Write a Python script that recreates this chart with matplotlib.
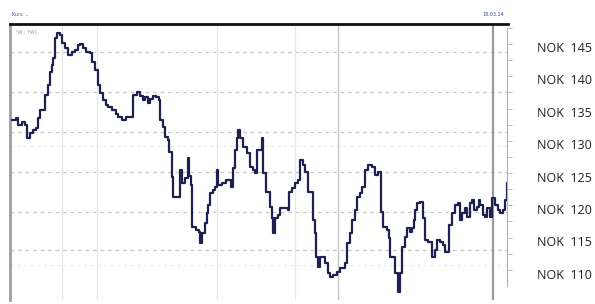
import matplotlib.pyplot as plt

# trading-day index and closing price (NOK)
days = [2, 6, 8, 12, 15, 17, 20, 23, 26, 28, 30, 35, 38, 40, 42, 43, 45, 47, 50, 52,
        55, 58, 62, 65, 68, 70, 73, 76, 80, 82, 85, 88, 90, 93, 96, 98, 102, 106, 108, 112,
        116, 123, 127, 130, 133, 135, 138, 140, 143, 146, 149, 150, 153, 155, 158, 159, 162, 163, 170, 172,
        175, 178, 179, 181, 182, 186, 189, 190, 192, 195, 197, 198, 200, 203, 205, 207, 208, 212, 216, 221,
        223, 225, 227, 228, 230, 233, 237, 240, 243, 245, 247, 252, 253, 256, 260, 262, 263, 265, 268, 270,
        278, 279, 282, 285, 288, 290, 293, 295, 298, 303, 305, 306, 308, 310, 315, 318, 320, 323, 327, 330,
        335, 337, 340, 342, 345, 347, 350, 352, 355, 358, 362, 365, 368, 371, 373, 377, 379, 380, 385, 388,
        390, 392, 395, 397, 400, 402, 404, 405, 407, 410, 413, 415, 418, 422, 425, 427, 430, 433, 435, 439,
        442, 445, 448, 450, 452, 455, 457, 460, 462, 464, 467, 469, 470, 473, 475, 477, 480, 482, 485, 488,
        490, 493, 495, 497]
prices = [133.7, 134.0, 133.0, 133.4, 133.0, 131.0, 131.7, 132.2, 132.5, 134.0, 135.3, 137.6, 139.1, 141.1, 142.2, 143.3, 146.4, 147.1, 146.8, 145.6,
          144.8, 143.7, 144.2, 144.5, 145.3, 145.5, 144.8, 144.2, 144.1, 142.7, 141.4, 139.1, 137.9, 136.8, 136.0, 135.7, 135.3, 134.7, 134.2, 133.7,
          134.2, 137.6, 138.1, 137.4, 136.8, 137.3, 136.4, 137.0, 137.4, 137.3, 136.8, 133.7, 132.7, 131.1, 130.6, 128.8, 124.9, 121.9, 126.0, 124.0,
          124.8, 127.9, 125.1, 123.7, 117.2, 116.8, 116.5, 114.8, 116.3, 117.9, 119.4, 120.6, 122.5, 122.9, 123.4, 126.0, 123.7, 124.0, 124.5, 123.4,
          126.3, 129.1, 131.0, 132.2, 131.0, 129.6, 128.6, 126.5, 126.0, 125.6, 129.1, 131.0, 125.6, 122.6, 120.3, 118.6, 116.3, 118.6, 119.1, 120.2,
          119.9, 122.6, 123.2, 124.0, 124.5, 127.6, 126.8, 125.7, 122.6, 118.3, 116.3, 112.6, 111.1, 112.6, 111.7, 110.1, 109.5, 109.8, 110.3, 110.9,
          111.7, 114.8, 116.3, 118.3, 119.9, 121.9, 122.5, 123.4, 126.0, 126.8, 126.5, 125.2, 125.7, 119.5, 117.2, 116.8, 115.5, 112.6, 110.1, 107.2,
          110.1, 114.2, 115.7, 117.1, 116.5, 117.1, 118.3, 119.9, 120.9, 121.1, 118.6, 115.2, 114.9, 112.6, 113.7, 115.2, 114.9, 114.5, 113.4, 117.5,
          119.4, 120.6, 120.9, 118.3, 119.4, 120.2, 118.8, 120.9, 121.4, 119.9, 120.3, 121.4, 120.6, 119.1, 118.8, 120.2, 118.8, 121.7, 120.6, 119.9,
          119.4, 119.9, 121.4, 124.0]

price_ticks = [145, 140, 135, 130, 125, 120, 115, 110]
tick_labels = [f"NOK  {p}" for p in price_ticks]
grid_levels = [144.2, 138.1, 131.9, 125.7, 119.5, 113.7]
faint_levels = [129.7, 111.4]
vlines_light = [52, 87, 207, 285]
vline_mid = 328
vline_dark = 483

LINE = "#1c2150"

fig = plt.figure(figsize=(5.95, 3.04), dpi=100)
ax = fig.add_axes([10 / 595, 4 / 304, 498 / 595, 276 / 304])
ax.set_xlim(0, 498)
ax.set_ylim(105.98, 148.53)

for lv in grid_levels:
    ax.axhline(lv, color="#c8c8c8", lw=0.9, ls=(0, (3, 3)), zorder=1)
for lv in faint_levels:
    ax.axhline(lv, color="#ececec", lw=0.8, ls=(0, (3, 3)), zorder=1)
for xv in vlines_light:
    ax.axvline(xv, color="#e6e6e6", lw=0.9, zorder=1)
ax.axvline(vline_mid, color="#c4c4c4", lw=1.0, zorder=1)
ax.axvline(vline_dark, color="#9a9a9a", lw=1.6, zorder=1)

ax.step(days, prices, where="post", color=LINE, lw=1.6, zorder=3)

for s in ["right", "bottom"]:
    ax.spines[s].set_visible(False)
ax.spines["top"].set_color("#111111")
ax.spines["top"].set_linewidth(2.0)
ax.spines["left"].set_color("#a0a0a0")
ax.spines["left"].set_linewidth(2.0)

ax.set_xticks([])
ax.yaxis.tick_right()
ax.set_yticks(price_ticks)
ax.set_yticklabels(tick_labels)
ax.tick_params(axis="y", length=0, pad=21, labelsize=9, labelcolor="#222222")
for t in ax.get_yticklabels():
    t.set_fontfamily("Open Sans")

# small bracket scale right of the plot
sc = fig.add_axes([507 / 595, 18 / 304, 0.001, 258 / 304])
sc.set_ylim(105.98 + 1.5, 148.53 - 3.5)
for s in ["right", "top", "bottom"]:
    sc.spines[s].set_visible(False)
sc.spines["left"].set_color("#b0b0b0")
sc.spines["left"].set_linewidth(0.8)
sc.set_xticks([])
sc.yaxis.tick_right()
sc.set_yticks([p + d for p in price_ticks for d in (0, 2.5)])
sc.set_yticklabels(["" for p in price_ticks for d in (0, 2.5)])
sc.tick_params(axis="y", length=3, width=0.6, color="#b0b0b0")

fig.text(12 / 595, 1 - 15 / 304, "Kurs  ..", fontsize=3.5, color="#3050a0", va="center")
fig.text(482 / 595, 1 - 15 / 304, "18.03.14", fontsize=3.5, color="#3050a0", va="center")
ax.text(6, 147.3, "'W ; YW]", fontsize=3.5, color="#999999", va="center")

fig.savefig("out.png", dpi=100)
